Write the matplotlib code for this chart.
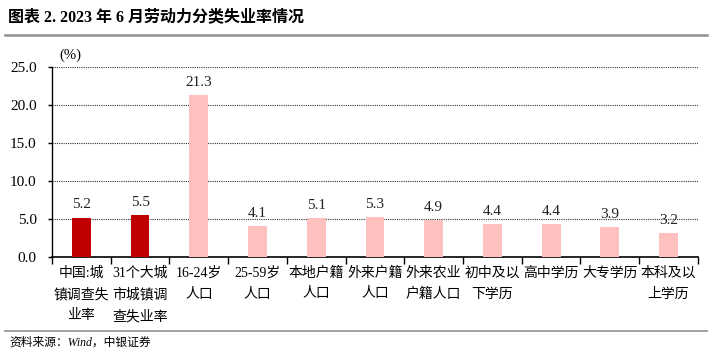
import matplotlib
matplotlib.use("Agg")
import matplotlib.pyplot as plt
import numpy as np

categories = ["中国:城\n镇调查失\n业率", "31个大城\n市城镇调\n查失业率", "16-24岁\n人口", "25-59岁\n人口",
              "本地户籍\n人口", "外来户籍\n人口", "外来农业\n户籍人口", "初中及以\n下学历",
              "高中学历", "大专学历", "本科及以\n上学历"]
values = [5.2, 5.5, 21.3, 4.1, 5.1, 5.3, 4.9, 4.4, 4.4, 3.9, 3.2]
bar_colors = ["#C00000", "#C00000"] + ["#FFC0C0"] * 9
yticks = [0, 5, 10, 15, 20, 25]

plt.rcParams['font.family'] = ['Liberation Serif', 'Noto Sans CJK SC']

fig = plt.figure(figsize=(7.27, 3.63), dpi=100)
ax = fig.add_axes([0.0715, 0.292, 0.8885, 0.523])

x = np.arange(len(categories))
ax.bar(x, values, width=0.32, color=bar_colors, zorder=3)
for xi, v in zip(x, values):
    ax.text(xi, v + 0.8, f"{v:.1f}", ha="center", va="bottom", fontsize=11, color="#222222")

ax.set_xlim(-0.5, len(categories) - 0.5)
ax.set_ylim(0, 25)
ax.set_yticks(yticks)
ax.set_yticklabels([f"{t:.1f}" for t in yticks], fontsize=11)
for t in yticks[1:]:
    ax.axhline(t, color="#333333", lw=0.8, ls=(0, (1, 1)), zorder=1)

ax.set_xticks(x)
ax.set_xticklabels(categories, fontsize=10, linespacing=1.75, va="top")
ax.tick_params(axis="x", which="major", length=0, pad=7)
ax.set_xticks(np.arange(len(categories) + 1) - 0.5, minor=True)
ax.tick_params(axis="x", which="minor", length=5, width=1, direction="out")
ax.tick_params(axis="y", length=3, width=1, direction="out", pad=8)

for s in ["top", "right"]:
    ax.spines[s].set_visible(False)
ax.spines["left"].set_linewidth(1)
ax.spines["bottom"].set_linewidth(1.2)

fig.text(0.097, 0.848, "(%)", fontsize=10.5, ha="center", va="center")
fig.text(0.011, 0.953, "图表 2. 2023 年 6 月劳动力分类失业率情况", fontsize=11.5, fontweight="bold",
         ha="left", va="center")
fig.add_artist(plt.Line2D([0.007, 0.972], [0.903, 0.903], color="#909090", lw=1.8))
fig.add_artist(plt.Line2D([0.007, 0.972], [0.087, 0.087], color="#909090", lw=1.2))
fig.text(0.013, 0.055, "资料来源：Wind，中银证券", fontsize=8.5, style="italic", ha="left", va="center")

fig.savefig("out.png", dpi=100)
